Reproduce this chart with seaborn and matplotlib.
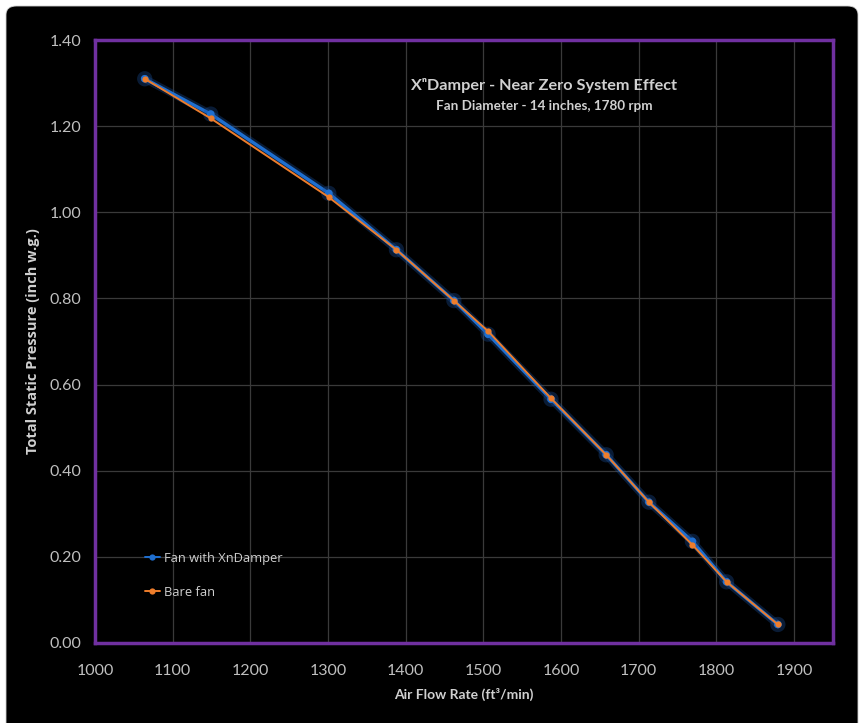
import numpy as np
import pandas as pd
import seaborn as sns
import matplotlib.pyplot as plt
from matplotlib.patches import FancyBboxPatch
import matplotlib.patheffects as pe

# data
airflow = [1064, 1149, 1301, 1388, 1462, 1506, 1587, 1658, 1713, 1769, 1813, 1879]
fan_xndamper = [1.310, 1.228, 1.044, 0.913, 0.795, 0.717, 0.566, 0.437, 0.327, 0.236, 0.142, 0.043]
bare_fan = [1.310, 1.218, 1.035, 0.913, 0.795, 0.724, 0.568, 0.437, 0.327, 0.228, 0.142, 0.043]
series_names = ["Fan with XnDamper", "Bare fan"]
x_ticks = [1000, 1100, 1200, 1300, 1400, 1500, 1600, 1700, 1800, 1900]
y_ticks = [0.0, 0.2, 0.4, 0.6, 0.8, 1.0, 1.2, 1.4]


def main():
    df = pd.DataFrame(
        {
            "Air Flow": airflow * 2,
            "Pressure": fan_xndamper + bare_fan,
            "Series": [series_names[0]] * len(airflow) + [series_names[1]] * len(airflow),
        }
    )

    sns.set_style("dark")
    plt.rcParams["font.family"] = ["Lato", "DejaVu Sans"]

    fig = plt.figure(figsize=(8.62, 7.23), dpi=100)
    fig.patch.set_facecolor("white")

    # black rounded panel behind the chart
    panel = FancyBboxPatch(
        (6 / 862, -0.05), (852 / 862), 1.05 - 6 / 723,
        boxstyle="round,pad=0,rounding_size=0.012",
        transform=fig.transFigure, facecolor="black", edgecolor="#d0d0d0",
        linewidth=0.6, zorder=-10,
    )
    fig.patches.append(panel)

    ax = fig.add_axes([95 / 862, 1 - 643 / 723, 738 / 862, 603 / 723])
    ax.set_facecolor("black")

    palette = {series_names[0]: "#1f6fd0", series_names[1]: "#ee7d2b"}
    sns.lineplot(
        data=df, x="Air Flow", y="Pressure", hue="Series", palette=palette,
        marker="o", markersize=4.5, markeredgewidth=0, ax=ax, zorder=3,
    )
    lines = ax.get_lines()
    lines[0].set_linewidth(2.4)
    lines[0].set_markersize(5.5)
    lines[0].set_path_effects(
        [pe.Stroke(linewidth=5.5, foreground="#1a4f9a", alpha=0.35), pe.Normal()]
    )
    lines[1].set_linewidth(1.4)
    lines[1].set_zorder(4)

    ax.set_xlim(1000, 1950)
    ax.set_ylim(0, 1.4)
    ax.set_xticks(x_ticks)
    ax.set_yticks(y_ticks)
    ax.set_yticklabels([f"{v:.2f}" for v in y_ticks])
    ax.grid(True, color="#3a3a3a", linewidth=0.9)
    ax.tick_params(colors="#bfbfbf", labelsize=11.5, length=0)
    ax.tick_params(axis="x", pad=15)
    ax.tick_params(axis="y", pad=10)

    for spine in ax.spines.values():
        spine.set_visible(True)
        spine.set_color("#7030a0")
        spine.set_linewidth(2.5)

    ax.set_xlabel("Air Flow Rate (ft³/min)", color="#d0d0d0", fontsize=10,
                  fontweight="bold", labelpad=7)
    ax.set_ylabel("Total Static Pressure (inch w.g.)", color="#d0d0d0", fontsize=10.5,
                  fontweight="bold", family=["Open Sans", "DejaVu Sans"])
    ax.yaxis.set_label_coords(-0.075, 0.5)

    ax.text(0.609, 0.924, "XⁿDamper - Near Zero System Effect", transform=ax.transAxes,
            ha="center", va="center", color="#d0d0d0", fontsize=11.7,
            fontweight="bold")
    ax.text(0.609, 0.8905, "Fan Diameter - 14 inches, 1780 rpm", transform=ax.transAxes,
            ha="center", va="center", color="#d0d0d0", fontsize=9.7,
            fontweight="bold")

    leg = ax.legend(
        loc="lower left", bbox_to_anchor=(0.052, 0.054), frameon=False,
        labelspacing=1.62, handlelength=1.15, handletextpad=0.3,
        prop={"family": ["Open Sans", "DejaVu Sans"], "size": 9.3},
    )
    for text in leg.get_texts():
        text.set_color("#d0d0d0")
    for h in leg.legend_handles:
        h.set_linewidth(1.4)
        h.set_path_effects([])

    plt.savefig("out.png", dpi=100, facecolor=fig.get_facecolor())


if __name__ == "__main__":
    main()
